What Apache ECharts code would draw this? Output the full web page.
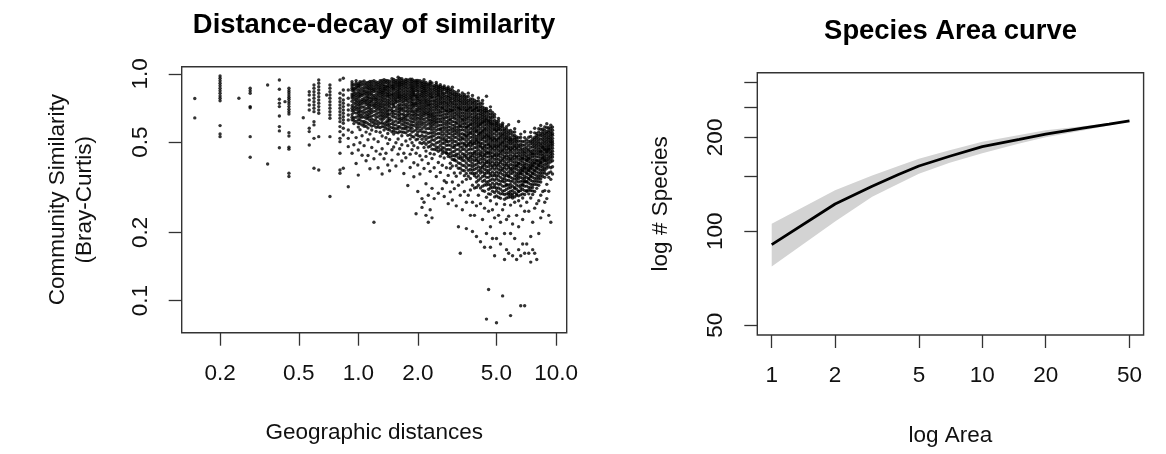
<!DOCTYPE html>
<html><head><meta charset="utf-8">
<script src="https://cdn.jsdelivr.net/npm/echarts@6/dist/echarts.min.js"></script>
<style>html,body{margin:0;padding:0;background:#fff}#c{width:1166px;height:454px}</style>
</head><body><div id="c"></div>
<script>
// ---- Left panel: geographic distance (x) and Bray-Curtis similarity (y), grouped by distance ----
const distX = [0.149,0.2,0.249,0.284,0.348,0.399,0.426,0.446,0.527,0.565,0.597,0.631,0.692,0.719,0.808,0.84,0.89,
  0.93,0.95,0.975,1.0,1.02,1.045,1.07,1.095,1.12,1.145,1.17,1.2,1.23,1.26,1.29,1.32,1.35,1.38,1.41,1.44,1.48,1.51,
  1.55,1.59,1.62,1.66,1.7,1.74,1.78,1.83,1.87,1.91,1.96,2.0,2.05,2.1,2.15,2.2,2.26,2.31,2.36,2.42,2.48,2.54,2.6,
  2.66,2.72,2.79,2.85,2.92,2.99,3.06,3.13,3.21,3.28,3.36,3.44,3.52,3.6,3.69,3.78,3.87,3.96,4.05,4.15,4.25,4.35,
  4.45,4.56,4.66,4.77,4.89,5.0,5.12,5.24,5.37,5.49,5.62,5.76,5.89,6.03,6.18,6.32,6.47,6.63,6.78,6.94,7.11,7.28,
  7.45,7.62,7.8,7.99,8.18,8.37,8.57,8.77,8.98,9.19,9.41,9.6];
const simY = [
  [0.78,0.64],
  [0.98,0.957,0.934,0.91,0.888,0.865,0.844,0.822,0.80,0.781,0.762,0.592,0.544,0.529],
  [0.781],
  [0.865,0.844,0.822,0.718,0.71,0.529,0.429],
  [0.894,0.401],
  [0.941,0.856,0.773,0.743,0.718,0.653,0.586,0.561,0.473],
  [0.755],
  [0.865,0.844,0.827,0.808,0.789,0.773,0.755,0.737,0.718,0.699,0.682,0.666,0.551,0.533,0.475,0.466,0.365,0.353],
  [0.641],
  [0.835,0.808,0.768,0.73,0.694,0.576,0.557,0.486],
  [0.894,0.865,0.835,0.808,0.781,0.755,0.73,0.706,0.682,0.616,0.596,0.52,0.384],
  [0.941,0.91,0.879,0.85,0.822,0.794,0.768,0.743,0.718,0.694,0.671,0.529,0.377],
  [0.808],
  [0.894,0.865,0.835,0.808,0.781,0.755,0.73,0.706,0.682,0.659,0.638,0.529,0.288],
  [0.941,0.822,0.781,0.755,0.73,0.706,0.682,0.659,0.638,0.616,0.586,0.557,0.52,0.503,0.447,0.377,0.365],
  [0.957,0.85,0.808,0.768,0.743,0.718,0.694,0.671,0.648,0.627,0.606,0.576,0.538,0.384],
  [0.85,0.781,0.73,0.694,0.659,0.627,0.566,0.52,0.478,0.318],
  [0.924,0.886,0.847,0.815,0.783,0.757,0.726,0.688,0.663,0.628,0.553,0.447],
  [0.897,0.866,0.834,0.796,0.743,0.716,0.676,0.641,0.604,0.487],
  [0.935,0.893,0.856,0.824,0.786,0.768,0.733,0.697,0.672,0.617,0.524,0.403],
  [0.906,0.874,0.843,0.797,0.776,0.753,0.708,0.687,0.654,0.606,0.583,0.462,0.358],
  [0.925,0.883,0.853,0.826,0.793,0.761,0.724,0.703,0.662,0.627,0.568,0.497],
  [0.897,0.864,0.817,0.803,0.772,0.738,0.714,0.683,0.644,0.596,0.534,0.438],
  [0.931,0.876,0.852,0.813,0.784,0.747,0.716,0.672,0.646,0.617,0.588,0.483],
  [0.914,0.868,0.837,0.818,0.793,0.734,0.703,0.677,0.638,0.612,0.554,0.414],
  [0.918,0.893,0.857,0.834,0.798,0.766,0.744,0.707,0.663,0.634,0.577,0.513,0.437],
  [0.904,0.857,0.813,0.783,0.757,0.723,0.687,0.668,0.624,0.597,0.543,0.382],
  [0.927,0.884,0.847,0.826,0.784,0.752,0.728,0.697,0.652,0.613,0.566,0.474],
  [0.913,0.866,0.836,0.803,0.768,0.742,0.713,0.684,0.657,0.626,0.593,0.517,0.423,0.222],
  [0.923,0.886,0.863,0.812,0.787,0.757,0.724,0.686,0.643,0.604,0.558,0.457],
  [0.897,0.877,0.834,0.797,0.774,0.733,0.698,0.673,0.648,0.616,0.583,0.503,0.386],
  [0.934,0.887,0.853,0.818,0.793,0.746,0.713,0.677,0.634,0.607,0.553,0.443],
  [0.914,0.866,0.843,0.813,0.776,0.738,0.717,0.693,0.657,0.624,0.586,0.533,0.468,0.362],
  [0.944,0.896,0.863,0.826,0.803,0.757,0.734,0.697,0.674,0.636,0.604,0.566,0.423],
  [0.917,0.884,0.847,0.823,0.776,0.753,0.706,0.684,0.647,0.614,0.577,0.523,0.447],
  [0.933,0.886,0.873,0.826,0.794,0.766,0.743,0.696,0.663,0.627,0.594,0.546,0.493,0.397],
  [0.908,0.883,0.837,0.814,0.776,0.754,0.716,0.694,0.636,0.623,0.566,0.514,0.374],
  [0.953,0.897,0.864,0.817,0.803,0.757,0.736,0.707,0.674,0.626,0.604,0.556,0.463,0.417],
  [0.924,0.884,0.853,0.827,0.786,0.744,0.716,0.684,0.646,0.614,0.576,0.543,0.476],
  [0.936,0.903,0.866,0.843,0.807,0.773,0.746,0.713,0.667,0.643,0.596,0.553,0.497,0.393],
  [0.968,0.914,0.876,0.853,0.816,0.784,0.727,0.703,0.657,0.634,0.586,0.573,0.517,0.443],
  [0.927,0.894,0.857,0.834,0.797,0.764,0.737,0.717,0.683,0.646,0.613,0.557,0.468],
  [0.954,0.916,0.884,0.837,0.813,0.776,0.754,0.707,0.693,0.637,0.624,0.576,0.534,0.487,0.413],
  [0.933,0.894,0.873,0.826,0.787,0.768,0.727,0.704,0.664,0.633,0.596,0.553,0.447,0.364],
  [0.946,0.907,0.864,0.817,0.797,0.763,0.734,0.714,0.657,0.626,0.587,0.573,0.506,0.427],
  [0.917,0.893,0.847,0.826,0.784,0.746,0.724,0.686,0.654,0.627,0.584,0.536,0.483,0.322],
  [0.947,0.904,0.866,0.843,0.806,0.774,0.727,0.706,0.664,0.643,0.597,0.564,0.516,0.443,0.387],
  [0.926,0.884,0.853,0.814,0.793,0.756,0.724,0.683,0.657,0.613,0.576,0.554,0.497,0.464],
  [0.914,0.893,0.857,0.826,0.797,0.743,0.714,0.687,0.654,0.616,0.593,0.527,0.483,0.406,0.352],
  [0.936,0.904,0.866,0.844,0.777,0.754,0.726,0.697,0.663,0.627,0.604,0.566,0.513,0.447,0.242],
  [0.916,0.877,0.853,0.817,0.796,0.763,0.717,0.684,0.637,0.614,0.576,0.553,0.516,0.473,0.397,0.303],
  [0.933,0.886,0.864,0.813,0.774,0.743,0.707,0.693,0.657,0.624,0.586,0.563,0.497,0.436,0.362],
  [0.907,0.874,0.836,0.823,0.787,0.764,0.723,0.704,0.667,0.634,0.597,0.574,0.536,0.493,0.418,0.282,0.258],
  [0.943,0.896,0.863,0.827,0.806,0.766,0.724,0.686,0.654,0.606,0.584,0.527,0.474,0.383,0.272],
  [0.917,0.884,0.846,0.813,0.776,0.747,0.713,0.677,0.664,0.616,0.594,0.553,0.514,0.457,0.433,0.328,0.238],
  [0.903,0.866,0.843,0.797,0.774,0.736,0.724,0.683,0.656,0.624,0.603,0.546,0.524,0.476,0.403,0.292,0.222],
  [0.926,0.893,0.847,0.824,0.786,0.763,0.726,0.704,0.664,0.647,0.607,0.574,0.527,0.503,0.446,0.372,0.252],
  [0.913,0.857,0.834,0.796,0.784,0.736,0.714,0.673,0.646,0.616,0.584,0.547,0.513,0.466,0.424,0.313,0.232],
  [0.887,0.873,0.836,0.814,0.767,0.753,0.714,0.693,0.656,0.627,0.596,0.553,0.534,0.486,0.443,0.386,0.282],
  [0.917,0.884,0.846,0.824,0.783,0.764,0.727,0.696,0.674,0.636,0.606,0.564,0.543,0.496,0.463,0.353],
  [0.884,0.856,0.824,0.797,0.774,0.733,0.716,0.676,0.657,0.614,0.593,0.546,0.526,0.474,0.456,0.407,0.298],
  [0.897,0.863,0.816,0.793,0.756,0.737,0.694,0.676,0.634,0.617,0.574,0.566,0.524,0.506,0.463,0.434,0.368],
  [0.873,0.834,0.817,0.776,0.753,0.714,0.704,0.657,0.637,0.596,0.577,0.536,0.517,0.474,0.446,0.396,0.312],
  [0.886,0.854,0.823,0.806,0.764,0.747,0.703,0.686,0.643,0.627,0.584,0.567,0.524,0.494,0.453,0.426,0.338,0.288],
  [0.864,0.826,0.797,0.753,0.736,0.694,0.684,0.643,0.616,0.576,0.557,0.513,0.503,0.464,0.447,0.386,0.332],
  [0.877,0.846,0.803,0.787,0.744,0.726,0.684,0.667,0.624,0.606,0.564,0.546,0.503,0.486,0.443,0.433,0.357,0.268],
  [0.854,0.816,0.794,0.763,0.746,0.703,0.677,0.634,0.626,0.583,0.566,0.524,0.507,0.463,0.446,0.404,0.384,0.302],
  [0.874,0.823,0.806,0.753,0.736,0.694,0.686,0.643,0.617,0.574,0.556,0.514,0.496,0.453,0.436,0.393,0.334,0.278],
  [0.836,0.813,0.774,0.757,0.714,0.696,0.653,0.637,0.593,0.576,0.543,0.526,0.484,0.474,0.436,0.416,0.366,0.312],
  [0.827,0.794,0.776,0.733,0.716,0.674,0.657,0.614,0.604,0.563,0.546,0.503,0.486,0.443,0.434,0.394,0.354,0.262],
  [0.843,0.816,0.773,0.757,0.713,0.704,0.664,0.646,0.604,0.586,0.553,0.536,0.493,0.486,0.444,0.426,0.384,0.323,0.212],
  [0.806,0.764,0.746,0.704,0.694,0.653,0.637,0.594,0.586,0.544,0.527,0.493,0.476,0.434,0.424,0.384,0.366,0.292,0.162],
  [0.824,0.797,0.754,0.736,0.696,0.674,0.633,0.624,0.584,0.567,0.524,0.516,0.476,0.464,0.426,0.416,0.376,0.334,0.252],
  [0.813,0.776,0.756,0.714,0.697,0.654,0.637,0.603,0.586,0.543,0.536,0.494,0.486,0.443,0.434,0.394,0.374,0.303],
  [0.794,0.753,0.736,0.694,0.686,0.643,0.626,0.584,0.576,0.534,0.526,0.484,0.476,0.436,0.426,0.386,0.364,0.343,0.272,0.208],
  [0.823,0.766,0.746,0.704,0.694,0.653,0.636,0.593,0.586,0.546,0.536,0.494,0.486,0.464,0.424,0.416,0.376,0.354,0.292],
  [0.776,0.757,0.714,0.706,0.664,0.646,0.603,0.596,0.554,0.546,0.504,0.496,0.466,0.434,0.426,0.396,0.366,0.346,0.308,0.238],
  [0.804,0.753,0.737,0.694,0.686,0.643,0.626,0.594,0.576,0.543,0.527,0.494,0.486,0.446,0.436,0.404,0.376,0.364,0.323,0.272,0.202],
  [0.766,0.746,0.703,0.694,0.653,0.637,0.604,0.586,0.553,0.537,0.503,0.494,0.454,0.446,0.414,0.396,0.364,0.356,0.314,0.238],
  [0.757,0.713,0.706,0.663,0.646,0.613,0.597,0.563,0.556,0.514,0.506,0.473,0.456,0.424,0.416,0.384,0.366,0.334,0.316,0.262,0.192],
  [0.784,0.736,0.694,0.686,0.643,0.627,0.594,0.584,0.546,0.537,0.503,0.496,0.464,0.446,0.413,0.406,0.374,0.356,0.323,0.292],
  [0.743,0.703,0.686,0.654,0.637,0.603,0.596,0.553,0.546,0.513,0.496,0.476,0.443,0.436,0.404,0.386,0.366,0.346,0.314,0.268,0.182],
  [0.764,0.716,0.696,0.663,0.646,0.613,0.606,0.564,0.556,0.524,0.514,0.474,0.466,0.434,0.424,0.394,0.386,0.353,0.336,0.306,0.228],
  [0.706,0.674,0.656,0.623,0.614,0.576,0.566,0.533,0.524,0.486,0.476,0.443,0.436,0.404,0.396,0.364,0.356,0.324,0.304,0.256,0.172],
  [0.797,0.704,0.676,0.636,0.627,0.594,0.576,0.543,0.534,0.503,0.486,0.454,0.446,0.413,0.406,0.376,0.366,0.333,0.324,0.286,0.198,0.083],
  [0.684,0.664,0.624,0.616,0.583,0.566,0.534,0.526,0.493,0.486,0.453,0.446,0.414,0.404,0.374,0.366,0.336,0.326,0.296,0.248,0.112],
  [0.716,0.667,0.646,0.614,0.604,0.573,0.556,0.524,0.516,0.483,0.476,0.446,0.434,0.406,0.396,0.364,0.356,0.323,0.314,0.276,0.212,0.172],
  [0.677,0.643,0.604,0.596,0.563,0.546,0.514,0.506,0.474,0.466,0.434,0.426,0.394,0.386,0.356,0.344,0.316,0.304,0.252,0.188],
  [0.663,0.624,0.606,0.573,0.566,0.524,0.516,0.484,0.476,0.443,0.436,0.404,0.396,0.364,0.356,0.324,0.316,0.287,0.232,0.158],
  [0.617,0.594,0.564,0.556,0.514,0.506,0.476,0.466,0.436,0.424,0.396,0.386,0.356,0.346,0.314,0.306,0.267,0.188,0.08],
  [0.636,0.604,0.574,0.566,0.524,0.516,0.484,0.476,0.444,0.436,0.404,0.396,0.366,0.356,0.326,0.314,0.286,0.238],
  [0.594,0.566,0.536,0.526,0.494,0.486,0.456,0.446,0.414,0.406,0.376,0.366,0.336,0.326,0.296,0.283,0.222,0.178],
  [0.606,0.584,0.546,0.536,0.503,0.496,0.463,0.456,0.424,0.416,0.384,0.376,0.344,0.336,0.304,0.296,0.252,0.105],
  [0.573,0.546,0.516,0.506,0.476,0.466,0.434,0.426,0.396,0.386,0.356,0.346,0.334,0.306,0.294,0.266,0.198,0.152],
  [0.586,0.554,0.526,0.516,0.484,0.476,0.446,0.434,0.404,0.396,0.364,0.356,0.326,0.323,0.296,0.284,0.228,0.168],
  [0.597,0.546,0.514,0.504,0.474,0.466,0.434,0.424,0.394,0.386,0.356,0.353,0.324,0.314,0.294,0.286,0.236,0.162],
  [0.563,0.524,0.506,0.494,0.464,0.456,0.424,0.416,0.384,0.376,0.363,0.336,0.316,0.304,0.287,0.264,0.198,0.086],
  [0.553,0.516,0.504,0.474,0.466,0.434,0.424,0.396,0.384,0.374,0.346,0.336,0.306,0.296,0.284,0.218,0.158],
  [0.574,0.536,0.514,0.484,0.476,0.444,0.434,0.406,0.394,0.384,0.356,0.344,0.316,0.313,0.287,0.272,0.188],
  [0.527,0.504,0.474,0.466,0.434,0.426,0.396,0.393,0.364,0.354,0.336,0.324,0.296,0.292,0.238,0.152],
  [0.617,0.524,0.486,0.476,0.446,0.434,0.404,0.403,0.374,0.364,0.346,0.334,0.304,0.303,0.276,0.212,0.168],
  [0.543,0.506,0.476,0.464,0.436,0.424,0.413,0.384,0.366,0.363,0.336,0.324,0.306,0.293,0.262,0.158,0.095],
  [0.503,0.466,0.454,0.426,0.424,0.396,0.376,0.373,0.346,0.326,0.323,0.296,0.284,0.228,0.178],
  [0.556,0.524,0.486,0.456,0.446,0.434,0.404,0.386,0.383,0.354,0.336,0.334,0.306,0.294,0.248,0.162,0.095],
  [0.513,0.476,0.464,0.436,0.416,0.414,0.386,0.366,0.363,0.336,0.334,0.306,0.303,0.272,0.178],
  [0.526,0.504,0.466,0.456,0.426,0.423,0.396,0.376,0.374,0.346,0.344,0.316,0.296,0.248,0.162],
  [0.553,0.506,0.494,0.456,0.446,0.433,0.406,0.386,0.384,0.356,0.353,0.326,0.306,0.284,0.192,0.148],
  [0.517,0.504,0.476,0.446,0.443,0.416,0.396,0.393,0.366,0.363,0.336,0.316,0.294,0.222,0.168],
  [0.576,0.526,0.514,0.486,0.474,0.446,0.434,0.406,0.404,0.376,0.373,0.346,0.326,0.303,0.256,0.162],
  [0.546,0.524,0.496,0.484,0.456,0.444,0.416,0.413,0.386,0.384,0.356,0.336,0.313,0.268,0.152],
  [0.574,0.536,0.506,0.494,0.466,0.454,0.443,0.416,0.396,0.394,0.366,0.346,0.323,0.276,0.198],
  [0.593,0.546,0.534,0.496,0.484,0.456,0.454,0.426,0.406,0.404,0.376,0.356,0.334,0.292,0.232],
  [0.557,0.544,0.516,0.504,0.476,0.474,0.446,0.426,0.423,0.396,0.376,0.353,0.303,0.248],
  [0.584,0.546,0.534,0.506,0.494,0.466,0.464,0.436,0.416,0.414,0.386,0.366,0.306,0.272],
  [0.603,0.556,0.546,0.516,0.504,0.476,0.456,0.453,0.426,0.406,0.384,0.326,0.282],
  [0.566,0.554,0.526,0.514,0.486,0.466,0.463,0.436,0.416,0.404,0.366,0.304,0.238],
  [0.594,0.556,0.544,0.516,0.496,0.484,0.456,0.446,0.424,0.386,0.343,0.222],
  [0.583,0.546,0.536,0.506,0.484,0.456,0.443,0.414,0.362]
];
// additional points read from the solid core of the cloud, one list per distance from 0.93 upward
const coreFirst = 17;
const simYCore = [
  [0.904,0.866,0.799,0.706,0.645],[0.851,0.814,0.771,0.695,0.623],[0.912,0.874,0.806,0.752,0.714,0.644],
  [0.889,0.821,0.731,0.672,0.628],[0.904,0.809,0.742,0.683,0.645,0.603],[0.921,0.84,0.756,0.662,0.618],
  [0.904,0.833,0.766,0.694,0.603],[0.891,0.768,0.752,0.657,0.587],[0.873,0.816,0.782,0.726,0.684,0.648,0.603],
  [0.926,0.88,0.834,0.741,0.705,0.646],[0.904,0.864,0.806,0.768,0.676,0.632,0.589],[0.935,0.888,0.851,0.786,0.727,0.61],
  [0.904,0.838,0.773,0.741,0.706,0.664,0.624,0.582],[0.918,0.856,0.816,0.753,0.716,0.598],
  [0.91,0.87,0.836,0.77,0.729,0.695,0.656,0.58],[0.937,0.891,0.828,0.795,0.757,0.674,0.641,0.606],
  [0.92,0.88,0.845,0.78,0.716,0.655,0.586],[0.937,0.866,0.8,0.731,0.665,0.596],
  [0.908,0.849,0.81,0.72,0.68,0.646,0.612,0.57],[0.93,0.86,0.795,0.735,0.664,0.6,0.583],
  [0.925,0.881,0.841,0.78,0.69,0.652,0.58],[0.946,0.903,0.867,0.806,0.765,0.73,0.665,0.595,0.56],
  [0.919,0.885,0.825,0.79,0.76,0.69,0.62,0.574],[0.94,0.895,0.835,0.8,0.756,0.68,0.61,0.55],
  [0.955,0.912,0.876,0.815,0.781,0.7,0.664,0.63,0.585],[0.935,0.9,0.86,0.795,0.73,0.665,0.6,0.555],
  [0.913,0.85,0.806,0.748,0.684,0.648,0.614,0.575],[0.926,0.885,0.84,0.78,0.686,0.642,0.607,0.55],
  [0.94,0.87,0.805,0.765,0.705,0.67,0.605,0.56],[0.925,0.885,0.824,0.79,0.75,0.685,0.62,0.58,0.54],
  [0.948,0.905,0.868,0.834,0.775,0.74,0.703,0.635,0.595,0.53],[0.935,0.875,0.84,0.812,0.77,0.73,0.67,0.635,0.56],
  [0.92,0.885,0.81,0.795,0.74,0.68,0.645,0.585,0.54],[0.936,0.896,0.835,0.78,0.74,0.7,0.66,0.595,0.535],
  [0.91,0.84,0.795,0.758,0.725,0.675,0.64,0.605,0.53],[0.925,0.89,0.855,0.805,0.743,0.685,0.65,0.615,0.555,0.515],
  [0.918,0.878,0.845,0.785,0.745,0.705,0.67,0.63,0.555,0.5],[0.9,0.865,0.83,0.795,0.76,0.73,0.695,0.64,0.573,0.533,0.49],
  [0.886,0.82,0.755,0.703,0.668,0.64,0.575,0.5],[0.91,0.87,0.805,0.745,0.685,0.625,0.59,0.55,0.48],
  [0.885,0.815,0.76,0.694,0.66,0.63,0.6,0.565,0.53,0.49],[0.855,0.79,0.733,0.675,0.642,0.612,0.575,0.51,0.465],
  [0.9,0.865,0.803,0.745,0.712,0.655,0.62,0.585,0.52,0.476],[0.87,0.84,0.81,0.753,0.696,0.635,0.57,0.5],
  [0.88,0.84,0.775,0.715,0.655,0.595,0.545,0.485],[0.853,0.795,0.735,0.68,0.616,0.556,0.495,0.46],
  [0.87,0.785,0.725,0.665,0.605,0.545,0.51,0.472],[0.845,0.775,0.715,0.663,0.597,0.535,0.484,0.45],
  [0.862,0.825,0.765,0.705,0.645,0.585,0.525,0.465],[0.835,0.778,0.725,0.69,0.655,0.605,0.545,0.485,0.43],
  [0.848,0.78,0.715,0.664,0.595,0.535,0.475,0.42],[0.794,0.735,0.675,0.615,0.56,0.505,0.455,0.42],
  [0.81,0.754,0.695,0.635,0.583,0.525,0.464,0.413],[0.795,0.735,0.684,0.625,0.57,0.515,0.465,0.405],
  [0.785,0.725,0.673,0.615,0.565,0.51,0.455,0.403],[0.775,0.716,0.654,0.604,0.545,0.496,0.445,0.396],
  [0.795,0.735,0.675,0.62,0.565,0.515,0.465,0.414,0.356],[0.774,0.715,0.664,0.605,0.555,0.505,0.455,0.405],
  [0.795,0.725,0.674,0.615,0.565,0.515,0.445,0.396],[0.735,0.685,0.625,0.575,0.525,0.48,0.448,0.412,0.38],
  [0.775,0.715,0.665,0.61,0.56,0.51,0.466,0.42,0.39],[0.725,0.674,0.62,0.57,0.52,0.474,0.43,0.38],
  [0.735,0.684,0.63,0.58,0.53,0.49,0.44,0.4,0.35],[0.76,0.714,0.665,0.61,0.565,0.52,0.48,0.43,0.39,0.34],
  [0.72,0.67,0.62,0.575,0.53,0.485,0.455,0.42,0.376],[0.74,0.68,0.63,0.585,0.54,0.494,0.45,0.41,0.37,0.32],
  [0.69,0.64,0.595,0.55,0.505,0.46,0.42,0.38,0.34],[0.69,0.655,0.61,0.56,0.518,0.47,0.43,0.39,0.35],
  [0.645,0.6,0.55,0.51,0.47,0.43,0.39,0.35,0.31],[0.69,0.63,0.59,0.54,0.5,0.46,0.42,0.38,0.34,0.295],
  [0.66,0.62,0.58,0.53,0.49,0.45,0.41,0.37,0.33],[0.645,0.59,0.545,0.5,0.46,0.42,0.38,0.34,0.3],
  [0.605,0.58,0.535,0.49,0.45,0.41,0.37,0.33,0.29],[0.62,0.588,0.545,0.5,0.46,0.42,0.38,0.34,0.3],
  [0.58,0.55,0.51,0.47,0.43,0.39,0.35,0.31],[0.595,0.565,0.52,0.48,0.44,0.4,0.36,0.32],
  [0.56,0.53,0.49,0.45,0.41,0.37,0.32,0.28],[0.57,0.54,0.5,0.46,0.42,0.38,0.34,0.31],
  [0.56,0.53,0.49,0.45,0.41,0.37,0.34,0.3],[0.545,0.515,0.478,0.44,0.4,0.35,0.326,0.295],
  [0.535,0.49,0.45,0.41,0.365,0.32,0.29],[0.555,0.525,0.5,0.46,0.42,0.37,0.33,0.3],
  [0.515,0.49,0.45,0.41,0.38,0.345,0.31],[0.505,0.46,0.42,0.39,0.355,0.32,0.29],
  [0.525,0.49,0.45,0.4,0.375,0.35,0.315],[0.485,0.44,0.41,0.386,0.36,0.336,0.31],
  [0.505,0.47,0.42,0.395,0.37,0.345,0.32],[0.495,0.45,0.426,0.4,0.376,0.35,0.32],
  [0.485,0.44,0.41,0.386,0.36,0.33,0.307],[0.53,0.475,0.42,0.396,0.37,0.34,0.315],
  [0.49,0.46,0.43,0.406,0.38,0.35,0.325,0.305],[0.55,0.5,0.46,0.42,0.39,0.36,0.336],
  [0.535,0.51,0.47,0.43,0.4,0.37,0.346,0.325],[0.555,0.52,0.48,0.43,0.406,0.38,0.355,0.335],
  [0.57,0.515,0.47,0.44,0.415,0.39,0.366,0.345],[0.57,0.53,0.49,0.46,0.436,0.41,0.386,0.365],
  [0.565,0.52,0.48,0.45,0.426,0.4,0.376,0.35],[0.58,0.53,0.49,0.466,0.44,0.416,0.395,0.36],
  [0.58,0.54,0.5,0.476,0.45,0.426,0.39,0.35],[0.575,0.53,0.505,0.47,0.435,0.41,0.37],
  [0.565,0.52,0.495,0.47,0.43,0.39]
];
const distTicks = [0.2, 0.5, 1, 2, 5, 10];
const simTicks = [0.1, 0.2, 0.5, 1];

// ---- Right panel: species-area curve with confidence band ----
const areaX       = [1, 2, 3, 4, 5, 7, 10, 15, 20, 30, 40, 50];
const speciesFit  = [90.7, 122.3, 139.5, 152, 161.9, 174, 186.7, 197, 204.9, 214, 220.5, 225.8];
const speciesLow  = [77.1, 107.6, 129.1, 142, 153, 166, 178, 191, 200, 210.5, 218.5, 225];
const speciesHigh = [105.7, 135.5, 151, 162, 170.7, 182, 193.6, 203.5, 210.9, 217, 222.5, 226.5];
const areaTicks = [1, 2, 5, 10, 20, 50];
const speciesTicks = [50, 100, 150, 200, 250, 300];
const speciesLabels = [50, 100, 200];

const titles = ['Distance-decay of similarity', 'Species Area curve'];
</script>
<script>
const L = Math.log10;
const FONT = "'Liberation Sans', Arial, Helvetica, sans-serif";
const FS = 22.5;
const scatterData = [];
distX.forEach((x, i) => (simY[i] || []).forEach(y => scatterData.push([L(x), L(y)])));
simYCore.forEach((ys, j) => { const x = distX[coreFirst + j]; if (x) ys.forEach(y => scatterData.push([L(x), L(y)])); });

function axis(grid, min, max, ticks, labels, fmt, isY, name) {
  return {
    type: 'value', gridIndex: grid, min: min, max: max,
    axisLine: { show: false, onZero: false },
    splitLine: { show: false },
    axisTick: { show: true, length: 13, inside: false, customValues: ticks.map(L),
      lineStyle: { color: '#333', width: 1.3 } },
    axisLabel: { show: true, customValues: labels.map(L), margin: 30, rotate: isY ? 90 : 0,
      fontFamily: FONT, fontSize: FS, lineHeight: FS, color: '#111',
      formatter: v => fmt(Math.pow(10, v)) },
    name: name, nameLocation: 'middle', nameGap: isY ? 83 : 87, nameRotate: isY ? 90 : 0,
    nameTextStyle: { fontFamily: FONT, fontSize: FS, lineHeight: 27, color: '#111' }
  };
}
const f1 = v => (Math.round(v * 10) / 10).toFixed(1);
const f0 = v => String(Math.round(v));

const chart = echarts.init(document.getElementById('c'), null, { renderer: 'canvas' });
chart.setOption({
  animation: false,
  backgroundColor: '#fff',
  grid: [
    { left: 181.7, right: 1166 - 566.7, top: 66.7, bottom: 454 - 332.7, show: true, borderColor: '#333', borderWidth: 1.4, backgroundColor: 'transparent' },
    { left: 757.3, right: 1166 - 1143.6, top: 72.7, bottom: 454 - 337.7, show: true, borderColor: '#333', borderWidth: 1.4, backgroundColor: 'transparent' }
  ],
  xAxis: [
    axis(0, -0.893, 1.054, distTicks, distTicks, f1, false, 'Geographic distances'),
    axis(1, -0.0684, 1.766, areaTicks, areaTicks, f0, false, 'log Area')
  ],
  yAxis: [
    axis(0, -1.141, 0.032, simTicks, simTicks, f1, true, 'Community Similarity\n(Bray-Curtis)'),
    axis(1, L(50) - 0.0311, L(300) + 0.0311, speciesTicks, speciesLabels, f0, true, 'log # Species')
  ],
  graphic: [
    { type: 'text', x: 374, y: 25.5, style: { text: titles[0], fontFamily: FONT, fontSize: 27.4, fontWeight: 'bold', fill: '#000', align: 'center', verticalAlign: 'middle' } },
    { type: 'text', x: 950.5, y: 31, style: { text: titles[1], fontFamily: FONT, fontSize: 27.4, fontWeight: 'bold', fill: '#000', align: 'center', verticalAlign: 'middle' } }
  ],
  series: [
    { type: 'scatter', xAxisIndex: 0, yAxisIndex: 0, data: scatterData, symbol: 'circle', symbolSize: 3.4,
      itemStyle: { color: '#000' }, silent: true },
    { type: 'custom', xAxisIndex: 1, yAxisIndex: 1, data: [[L(areaX[0]), L(speciesFit[0])]], silent: true, z: 1,
      renderItem: (params, api) => {
        const pts = [];
        for (let i = 0; i < areaX.length; i++) pts.push(api.coord([L(areaX[i]), L(speciesHigh[i])]));
        for (let i = areaX.length - 1; i >= 0; i--) pts.push(api.coord([L(areaX[i]), L(speciesLow[i])]));
        return { type: 'polygon', shape: { points: pts }, style: { fill: '#d3d3d3' } };
      } },
    { type: 'line', xAxisIndex: 1, yAxisIndex: 1, z: 3, data: areaX.map((a, i) => [L(a), L(speciesFit[i])]),
      showSymbol: false, symbol: 'none', lineStyle: { color: '#000', width: 2.8 }, silent: true }
  ]
});
</script>
</body></html>
